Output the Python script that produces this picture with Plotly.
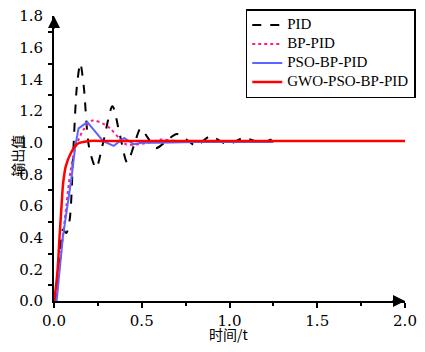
import plotly.graph_objects as go

# PID (black dashed)
t_pid = [0, 0.008, 0.02, 0.035, 0.05, 0.07, 0.09, 0.11, 0.13, 0.15, 0.17, 0.2, 0.24, 0.28, 0.333, 0.375, 0.417,
         0.455, 0.494, 0.535, 0.58, 0.64, 0.70, 0.755, 0.81, 0.89, 0.99, 1.08, 1.18, 1.24]
y_pid = [0, 0.0, 0.12, 0.32, 0.45, 0.43, 0.52, 0.95, 1.35, 1.5, 1.35, 0.97, 0.84, 1.0, 1.23, 1.05, 0.875,
         0.98, 1.09, 1.03, 0.965, 1.01, 1.055, 1.02, 0.98, 1.04, 0.99, 1.03, 1.0, 1.02]

# BP-PID (pink dotted)
t_bp = [0, 0.015, 0.03, 0.05, 0.07, 0.094, 0.12, 0.167, 0.22, 0.28, 0.32, 0.37, 0.41, 0.48, 0.54, 0.61, 0.7, 0.85, 1.0, 1.25]
y_bp = [0, 0.05, 0.2, 0.4, 0.6, 0.82, 0.96, 1.08, 1.14, 1.12, 1.09, 1.03, 0.99, 0.99, 1.0, 1.02, 1.01, 1.005, 1.005, 1.005]

# PSO-BP-PID (blue solid)
t_pso = [0, 0.015, 0.05, 0.08, 0.1, 0.12, 0.14, 0.19, 0.28, 0.34, 0.4, 0.455, 0.5, 0.6, 0.8, 1.0, 1.25]
y_pso = [0, 0.0, 0.4, 0.62, 0.78, 0.97, 1.09, 1.13, 1.01, 0.98, 1.03, 0.99, 1.0, 1.0, 1.005, 1.005, 1.005]

# GWO-PSO-BP-PID (red solid)
t_gwo = [0, 0.01, 0.02, 0.033, 0.044, 0.05, 0.056, 0.067, 0.094, 0.13, 0.2, 0.3, 0.5, 1.0, 1.5, 2.0]
y_gwo = [0, 0.08, 0.19, 0.43, 0.62, 0.72, 0.78, 0.85, 0.93, 0.99, 1.01, 1.01, 1.01, 1.01, 1.01, 1.01]

series_names = ["PID", "BP-PID", "PSO-BP-PID", "GWO-PSO-BP-PID"]

x_ticks = [0.0, 0.5, 1.0, 1.5, 2.0]
y_ticks = [0.0, 0.2, 0.4, 0.6, 0.8, 1.0, 1.2, 1.4, 1.6, 1.8]

SERIF = "Liberation Serif, Noto Sans CJK SC, serif"
TICKF = "DejaVu Serif, serif"
CJK = "Noto Sans CJK SC, sans-serif"


def legend_name(s):
    return f"<span style='font-size:15px'>{s}</span>"


fig = go.Figure()
fig.add_trace(go.Scatter(x=t_pid, y=y_pid, mode="lines", name=legend_name(series_names[0]),
                         line=dict(color="black", width=2, dash="dash", shape="spline", smoothing=0.8)))
fig.add_trace(go.Scatter(x=t_bp, y=y_bp, mode="lines", name=legend_name(series_names[1]),
                         line=dict(color="#ff1a8c", width=2, dash="dot", shape="spline", smoothing=0.8)))
fig.add_trace(go.Scatter(x=t_pso, y=y_pso, mode="lines", name=legend_name(series_names[2]),
                         line=dict(color="#5a66ff", width=2)))
fig.add_trace(go.Scatter(x=t_gwo, y=y_gwo, mode="lines", name=legend_name(series_names[3]),
                         line=dict(color="#ff0000", width=2.5, shape="spline", smoothing=0.8)))

# The page body has an 8px default margin; the figure is sized to fit inside it.
fig.update_layout(
    width=409, height=336,
    margin=dict(l=46, r=12, t=8, b=43, autoexpand=False),
    plot_bgcolor="white", paper_bgcolor="white",
    font=dict(family=SERIF, size=16, color="black"),
    showlegend=True,
    legend=dict(xref="container", yref="container", x=0.997, y=0.997,
                xanchor="right", yanchor="top",
                bgcolor="white", bordercolor="black", borderwidth=1.5,
                font=dict(family=SERIF, size=10, color="black"),
                itemwidth=30, tracegroupgap=0,
                ),
    xaxis=dict(range=[0, 2.0], tickvals=x_ticks, ticktext=[f"{v:.1f}" for v in x_ticks],
               showgrid=False, zeroline=False, showline=True, linecolor="black", linewidth=2,
               ticks="outside", ticklen=5, tickwidth=2, tickcolor="black",
               minor=dict(ticks="outside", ticklen=3, tickwidth=1.5, tickcolor="black", tick0=0.25, dtick=0.5),
               tickfont=dict(family=TICKF, size=15), ticklabeloverflow="allow"),
    yaxis=dict(range=[0, 1.8], tickvals=y_ticks, ticktext=[f"{v:.1f}" for v in y_ticks],
               showgrid=False, zeroline=False, showline=True, linecolor="black", linewidth=2,
               ticks="", ticklabelstandoff=6,
               minor=dict(ticks="outside", ticklen=4, tickwidth=1.5, tickcolor="black", tick0=0.1, dtick=0.2),
               tickfont=dict(family=TICKF, size=15), ticklabeloverflow="allow"),
)

fig.add_annotation(x=2.0, y=0, xref="x", yref="y", ax=-14, ay=0, text="", showarrow=True,
                   arrowhead=2, arrowsize=1.2, arrowwidth=2, arrowcolor="black", standoff=0)
fig.add_annotation(x=0, y=1.8, xref="x", yref="y", ax=0, ay=14, text="", showarrow=True,
                   arrowhead=2, arrowsize=1.2, arrowwidth=2, arrowcolor="black", standoff=0)

fig.add_annotation(text="输出值", xref="paper", yref="paper", x=-0.106, y=0.509,
                   xanchor="center", yanchor="middle", textangle=-90, showarrow=False, borderpad=0,
                   font=dict(family=CJK, size=14, color="black"))
fig.add_annotation(text="时间/t", xref="paper", yref="paper", x=0.497, y=-0.116,
                   xanchor="center", yanchor="middle", showarrow=False, borderpad=0,
                   font=dict(family=CJK, size=14, color="black"))

fig.write_html("out.html")
